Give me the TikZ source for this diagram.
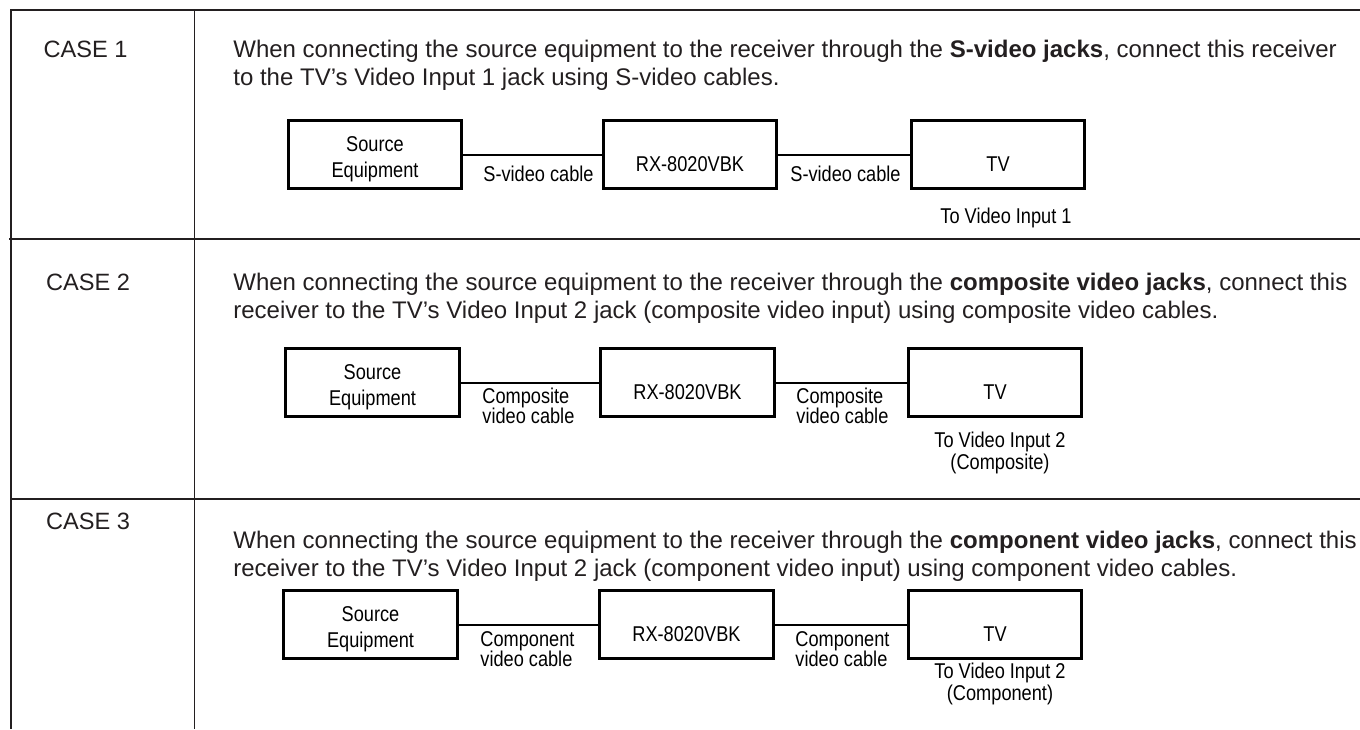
\documentclass[tikz,border=0pt]{standalone}
\usepackage{fontspec}
\setmainfont{Liberation Sans}
\newfontfamily\narrowsans[FakeStretch=0.85]{Liberation Sans}
\usepackage{xcolor}
\usepackage{tikz}
\usetikzlibrary{positioning}
\definecolor{inkgray}{RGB}{35,31,32}

\begin{document}
\begin{tikzpicture}[x=0.5pt, y=-0.5pt,
        rule/.style={draw=inkgray, line width=1.2pt},
        thinrule/.style={draw=inkgray, line width=0.5pt},
        casetxt/.style={font=\fontsize{11.8}{14}\selectfont, text=inkgray, inner sep=0pt, anchor=base},
        bodytxt/.style={font=\fontsize{12}{14}\selectfont, text=inkgray, inner sep=0pt, anchor=base west},
        unit/.style={rectangle, draw=black, line width=1.4pt, minimum width=86.7pt, minimum height=34pt, inner sep=0pt},
        unittxt/.style={font=\narrowsans\fontsize{10.7}{13}\selectfont, align=center, inner sep=0pt, anchor=base},
        cabletxt/.style={font=\narrowsans\fontsize{10.7}{10}\selectfont, align=left, inner sep=0pt, anchor=base west},
        porttxt/.style={font=\narrowsans\fontsize{10.7}{11}\selectfont, align=center, inner sep=0pt, anchor=base},
        wire/.style={draw=black, line width=1pt}
    ]
        \useasboundingbox (0,0) rectangle (1360,729);

        % Table rules
        \draw[rule] (10,10) -- (1360,10);
        \draw[rule] (11,9) -- (11,729);
        \draw[thinrule] (194,10) -- (194,729);
        \draw[thinrule, line width=0.8pt] (9,239) -- (1360,239);
        \draw[thinrule, line width=0.8pt] (11,499) -- (1360,499);

        % Case 1
        \node[casetxt] (case1) at (85.5,57) {CASE 1};
        \node[bodytxt] (text1a) at (233,57) {When connecting the source equipment to the receiver through the \textbf{S-video jacks}, connect this receiver};
        \node[bodytxt] (text1b) at (233,85) {to the TV’s Video Input 1 jack using S-video cables.};

        % Case 2
        \node[casetxt] (case2) at (88,290) {CASE 2};
        \node[bodytxt] (text2a) at (233,290) {When connecting the source equipment to the receiver through the \textbf{composite video jacks}, connect this};
        \node[bodytxt] (text2b) at (233,318) {receiver to the TV’s Video Input 2 jack (composite video input) using composite video cables.};

        % Case 3
        \node[casetxt] (case3) at (88,529) {CASE 3};
        \node[bodytxt] (text3a) at (233,548) {When connecting the source equipment to the receiver through the \textbf{component video jacks}, connect this};
        \node[bodytxt] (text3b) at (233,576) {receiver to the TV’s Video Input 2 jack (component video input) using component video cables.};

        % Connection chains
        \foreach \r/\yc/\sx/\rx/\tx in {1/154.5/375/690/998, 2/382.5/372.5/687.5/995, 3/624.5/370.5/686.5/995} {
            \node[unit] (src\r) at (\sx,\yc) {};
            \node[unit] (rcv\r) at (\rx,\yc) {};
            \node[unit] (tv\r) at (\tx,\yc) {};
            \node[unittxt] (srct\r) at (\sx,\yc+23) {Source\\Equipment};
            \node[unittxt] (rcvt\r) at (\rx,\yc+17) {RX-8020VBK};
            \node[unittxt] (tvt\r) at (\tx,\yc+17) {TV};
            \draw[wire] (src\r) -- (rcv\r);
            \draw[wire] (rcv\r) -- (tv\r);
        }

        % Cable labels
        \node[cabletxt] (cab1a) at (483,181) {S-video cable};
        \node[cabletxt] (cab1b) at (790,181) {S-video cable};
        \node[cabletxt] (cab2a) at (482,423) {Composite\\video cable};
        \node[cabletxt] (cab2b) at (796,423) {Composite\\video cable};
        \node[cabletxt] (cab3a) at (480,666) {Component\\video cable};
        \node[cabletxt] (cab3b) at (795,666) {Component\\video cable};

        % TV inputs
        \node[porttxt] (port1) at (1006,223) {To Video Input 1};
        \node[porttxt] (port2) at (1000,469) {To Video Input 2\\(Composite)};
        \node[porttxt] (port3) at (1000,700) {To Video Input 2\\(Component)};
    \end{tikzpicture}
\end{document}
